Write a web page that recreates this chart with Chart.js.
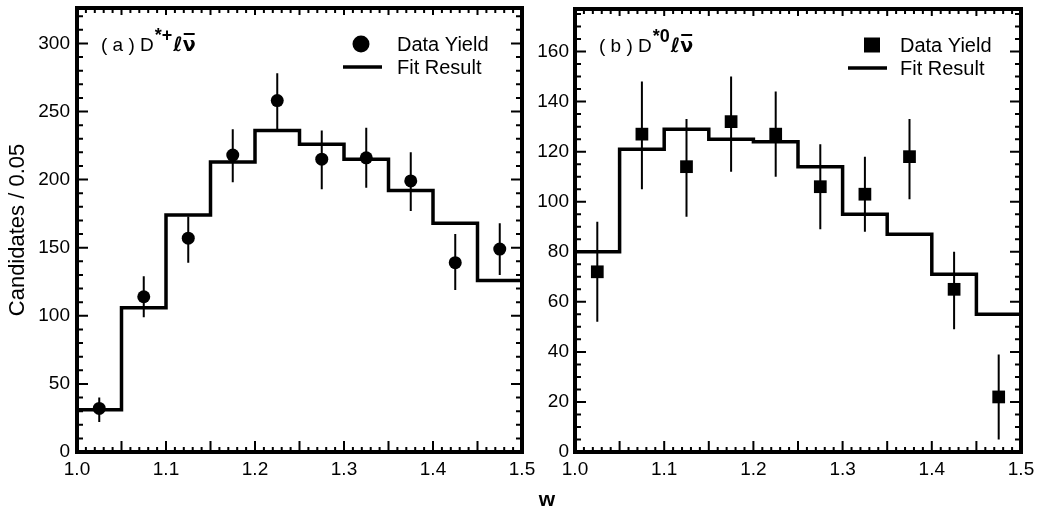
<!DOCTYPE html>
<html>
<head>
<meta charset="utf-8">
<script src="https://cdn.jsdelivr.net/npm/chart.js@4.4.0/dist/chart.umd.min.js"></script>
<style>
  html, body { margin: 0; padding: 0; background: #fff; }
  #wrap { position: relative; width: 1039px; height: 512px; }
  #wrap canvas { position: absolute; left: 0; top: 0; }
</style>
</head>
<body>
<div id="wrap">
  <canvas id="chartA" width="1039" height="512"></canvas>
  <canvas id="chartB" width="1039" height="512"></canvas>
</div>
<script>
// bins in w
const binEdges = [1.00, 1.05, 1.10, 1.15, 1.20, 1.25, 1.30, 1.35, 1.40, 1.45, 1.50];
const binCenters = [1.025, 1.075, 1.125, 1.175, 1.225, 1.275, 1.325, 1.375, 1.425, 1.475];
const xTickLabels = [1.0, 1.1, 1.2, 1.3, 1.4, 1.5];

// (a) D*+ l nu
const yieldA = [32, 114, 157, 218, 258, 215, 216, 199, 139, 149];
const errLoA = [22, 99, 139, 198, 235, 193, 194, 177, 119, 130];
const errHiA = [40, 129, 173, 237, 278, 236, 238, 220, 160, 168];
const fitA = [31, 106, 174, 213, 236, 226, 215, 192, 168, 126];
const yTicksA = [0, 50, 100, 150, 200, 250, 300];

// (b) D*0 l nu
const yieldB = [72, 127, 114, 132, 127, 106, 103, 118, 65, 22];
const errLoB = [52, 105, 94, 112, 110, 89, 88, 101, 49, 5];
const errHiB = [92, 148, 133, 150, 144, 123, 118, 133, 80, 39];
const fitB = [80, 121, 129, 125, 124, 114, 95, 87, 71, 55];
const yTicksB = [0, 20, 40, 60, 80, 100, 120, 140, 160];

const FONT = '"Liberation Sans", Arial, Helvetica, sans-serif';

// histogram points: one per edge, last bin repeated so the step reaches 1.5
function stepData(edges, vals) {
  return edges.map((e, i) => ({ x: e, y: vals[Math.min(i, vals.length - 1)] }));
}
function pointData(xs, ys) {
  return xs.map((x, i) => ({ x: x, y: ys[i] }));
}

// frame, inward ticks, error bars, label and legend
const decor = {
  id: 'decor',
  afterDatasetsDraw(chart, args, o) {
    const { ctx, chartArea: a, scales: { x, y } } = chart;
    ctx.save();
    ctx.strokeStyle = '#000';
    ctx.fillStyle = '#000';

    // error bars
    ctx.lineWidth = 2;
    ctx.beginPath();
    o.centers.forEach((c, i) => {
      const px = x.getPixelForValue(c);
      ctx.moveTo(px, y.getPixelForValue(o.lo[i]));
      ctx.lineTo(px, y.getPixelForValue(o.hi[i]));
    });
    ctx.stroke();

    // ticks
    ctx.lineWidth = 2;
    ctx.beginPath();
    const nx = Math.round((x.max - x.min) / o.xMinor);
    for (let i = 0; i <= nx; i++) {
      const px = x.getPixelForValue(x.min + i * o.xMinor);
      const major = i % o.xEvery === 0;
      const lb = major ? 11 : 5, lt = major ? 7 : 5;
      ctx.moveTo(px, a.bottom); ctx.lineTo(px, a.bottom - lb);
      ctx.moveTo(px, a.top); ctx.lineTo(px, a.top + lt);
    }
    const ny = Math.floor((y.max - y.min) / o.yMinor + 1e-9);
    for (let i = 0; i <= ny; i++) {
      const py = y.getPixelForValue(y.min + i * o.yMinor);
      const len = i % o.yEvery === 0 ? 11 : 6;
      ctx.moveTo(a.left, py); ctx.lineTo(a.left + len, py);
      ctx.moveTo(a.right, py); ctx.lineTo(a.right - len, py);
    }
    ctx.stroke();

    // frame
    ctx.lineWidth = 4;
    ctx.strokeRect(a.left, a.top, a.right - a.left, a.bottom - a.top);

    // panel label
    let tx = a.left + o.labelDx;
    const base = a.top + 43;
    ctx.textBaseline = 'alphabetic';
    ctx.textAlign = 'left';
    ctx.font = '19px ' + FONT;
    ctx.fillText(o.labelMain, tx, base);
    tx += ctx.measureText(o.labelMain).width + 1;
    ctx.font = 'bold 18px ' + FONT;
    ctx.fillText(o.labelSup, tx, base - 10);
    tx += ctx.measureText(o.labelSup).width + 1;
    ctx.font = 'bold italic 20px "DejaVu Sans", sans-serif';
    ctx.fillText('\u2113', tx, base);
    tx += ctx.measureText('\u2113').width;
    ctx.font = 'bold 19px "DejaVu Sans", sans-serif';
    ctx.fillText('\u03BD', tx, base);
    const nw = ctx.measureText('\u03BD').width;
    ctx.lineWidth = 2;
    ctx.beginPath();
    ctx.moveTo(tx + 1, base - 17);
    ctx.lineTo(tx + nw - 1, base - 17);
    ctx.stroke();

    // legend
    const lx = a.right - o.legendDx;
    ctx.font = '20px ' + FONT;
    ctx.fillText('Data Yield', lx, a.top + 43);
    ctx.fillText('Fit Result', lx, a.top + 66);
    const mx = lx - o.markerDx, my = a.top + 36;
    ctx.beginPath();
    if (o.marker === 'circle') {
      ctx.arc(mx, my, 8.5, 0, Math.PI * 2);
    } else {
      ctx.rect(mx - 8, my - 7.5, 16, 15);
    }
    ctx.fill();
    ctx.lineWidth = 3.5;
    ctx.beginPath();
    ctx.moveTo(lx - o.lineDx0, a.top + 59);
    ctx.lineTo(lx - o.lineDx1, a.top + 59);
    ctx.stroke();

    if (o.xTitle) {
      ctx.font = 'bold 21px ' + FONT;
      ctx.textAlign = 'center';
      ctx.fillText(o.xTitle, o.xTitleX, o.xTitleY);
    }
    ctx.restore();
  }
};

function makeChart(id, cfg) {
  return new Chart(document.getElementById(id), {
    type: 'scatter',
    data: {
      datasets: [{
        type: 'line',
        label: 'Fit Result',
        data: stepData(binEdges, cfg.fit),
        stepped: 'before',
        borderColor: '#000',
        borderWidth: 3.5,
        pointRadius: 0,
        fill: false
      }, {
        label: 'Data Yield',
        data: pointData(binCenters, cfg.yields),
        pointStyle: cfg.marker === 'circle' ? 'circle' : 'rect',
        pointRadius: cfg.marker === 'circle' ? 6.5 : 9,
        backgroundColor: '#000',
        borderColor: '#000',
        borderWidth: 0
      }]
    },
    options: {
      responsive: false,
      animation: false,
      layout: { padding: { left: 0, right: cfg.padRight, top: 8, bottom: 0 } },
      plugins: {
        legend: { display: false },
        tooltip: { enabled: false },
        decor: {
          centers: binCenters, lo: cfg.lo, hi: cfg.hi,
          xMinor: 0.01, xEvery: 5, yMinor: cfg.yMinor, yEvery: cfg.yEvery,
          labelMain: cfg.labelMain, labelSup: cfg.labelSup, labelDx: 24,
          legendDx: cfg.legendDx, markerDx: cfg.markerDx,
          lineDx0: cfg.lineDx0, lineDx1: cfg.lineDx1, marker: cfg.marker,
          xTitle: cfg.xTitle, xTitleX: 547, xTitleY: 506
        }
      },
      scales: {
        x: {
          type: 'linear', min: 1.0, max: 1.5,
          grid: { display: false, drawTicks: false },
          border: { display: false },
          afterBuildTicks: s => { s.ticks = xTickLabels.map(v => ({ value: v })); },
          afterFit: s => { s.height = 60; s.paddingLeft = 0; s.paddingRight = 0; },
          ticks: {
            color: '#000', padding: 6, maxRotation: 0,
            font: { family: FONT, size: 19 },
            callback: v => Number(v).toFixed(1)
          }
        },
        y: {
          min: 0, max: cfg.yMax,
          grid: { display: false, drawTicks: false },
          border: { display: false },
          afterBuildTicks: s => { s.ticks = cfg.yTicks.map(v => ({ value: v })); },
          afterFit: s => { s.width = cfg.yWidth; s.paddingTop = 0; s.paddingBottom = 0; },
          title: {
            display: !!cfg.yTitle, text: cfg.yTitle || '', color: '#000',
            font: { family: FONT, size: 22 }, padding: { top: 5, bottom: 0 }
          },
          ticks: {
            color: '#000', padding: cfg.yPad,
            font: { family: FONT, size: 19 }
          }
        }
      }
    },
    plugins: [decor]
  });
}

makeChart('chartA', {
  fit: fitA, yields: yieldA, lo: errLoA, hi: errHiA, marker: 'circle',
  yMax: 326, yTicks: yTicksA, yMinor: 10, yEvery: 5,
  yWidth: 77, padRight: 1039 - 522, yPad: 7,
  yTitle: 'Candidates / 0.05',
  labelMain: '( a ) D', labelSup: '*+',
  legendDx: 125, markerDx: 36, lineDx0: 54, lineDx1: 15,
  xTitle: 'w'
});

makeChart('chartB', {
  fit: fitB, yields: yieldB, lo: errLoB, hi: errHiB, marker: 'square',
  yMax: 177, yTicks: yTicksB, yMinor: 5, yEvery: 4,
  yWidth: 575, padRight: 18, yPad: 6,
  yTitle: '',
  labelMain: '( b ) D', labelSup: '*0',
  legendDx: 121, markerDx: 28, lineDx0: 52, lineDx1: 13,
  xTitle: ''
});
</script>
</body>
</html>
